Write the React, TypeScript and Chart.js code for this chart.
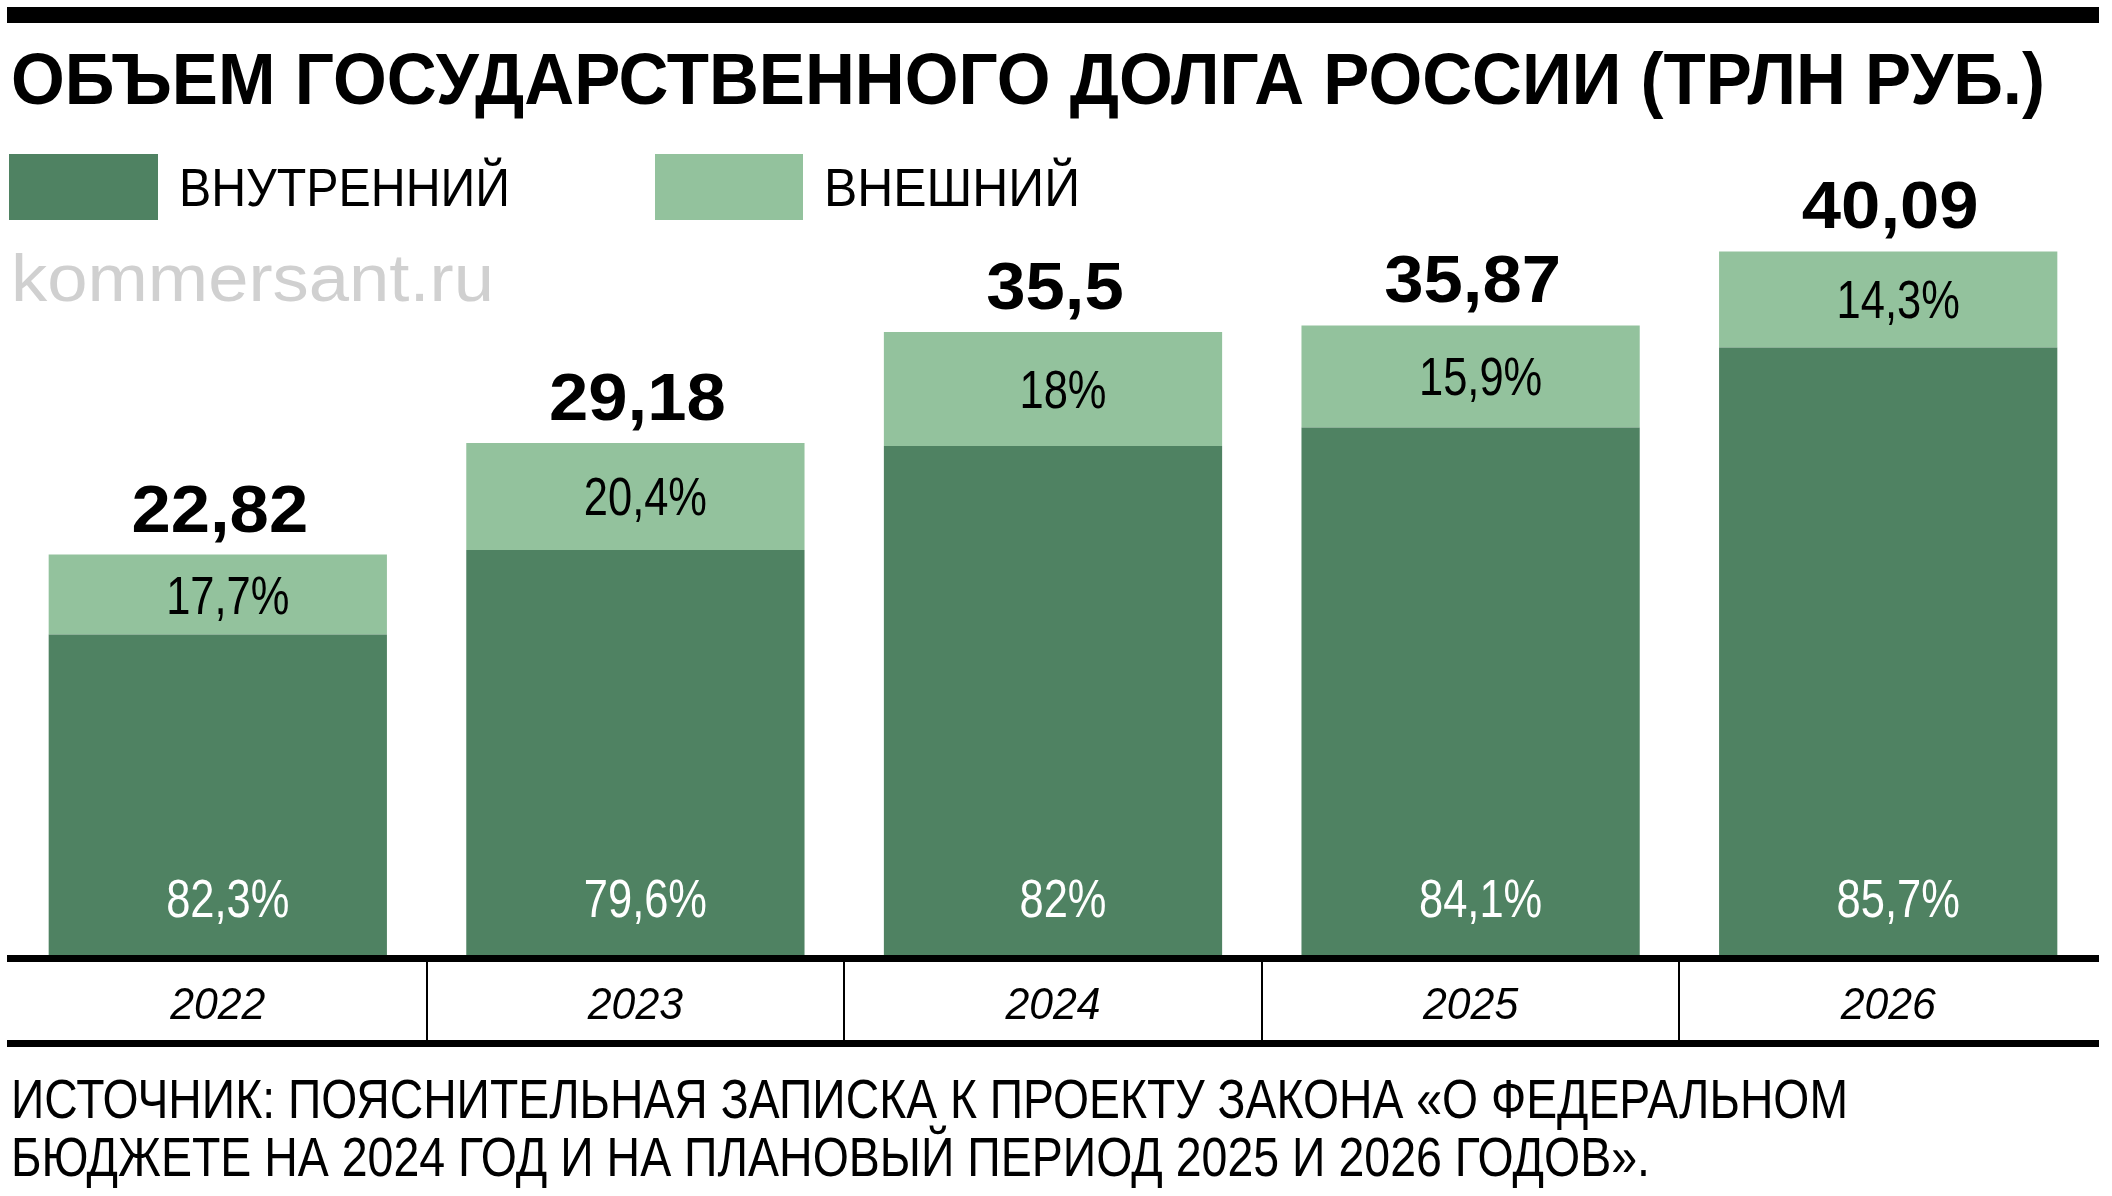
import React, { useEffect, useRef } from "react";
import { Chart, registerables } from "chart.js";

Chart.register(...registerables);

const categories = ["2022", "2023", "2024", "2025", "2026"];
const domestic = [18.26, 23.08, 29.0, 30.06, 34.62];
const external = [4.56, 6.1, 6.5, 5.81, 5.47];
const totalLabels = ["22,82", "29,18", "35,5", "35,87", "40,09"];
const domesticShare = ["82,3%", "79,6%", "82%", "84,1%", "85,7%"];
const externalShare = ["17,7%", "20,4%", "18%", "15,9%", "14,3%"];

const TITLE = "ОБЪЕМ ГОСУДАРСТВЕННОГО ДОЛГА РОССИИ (ТРЛН РУБ.)";
const LEGEND_DOMESTIC = "ВНУТРЕННИЙ";
const LEGEND_EXTERNAL = "ВНЕШНИЙ";
const WATERMARK = "kommersant.ru";
const SOURCE_1 = "ИСТОЧНИК: ПОЯСНИТЕЛЬНАЯ ЗАПИСКА К ПРОЕКТУ ЗАКОНА «О ФЕДЕРАЛЬНОМ";
const SOURCE_2 = "БЮДЖЕТЕ НА 2024 ГОД И НА ПЛАНОВЫЙ ПЕРИОД 2025 И 2026 ГОДОВ».";

const DARK = "#4f8262";
const LIGHT = "#93c29d";
const FONT = '"Liberation Sans", Arial, sans-serif';

let mctx: CanvasRenderingContext2D | null = null;
function measure(text: string, font: string) {
  if (!mctx) mctx = document.createElement("canvas").getContext("2d");
  mctx!.font = font;
  return mctx!.measureText(text).width;
}

function FitText(props: {
  text: string;
  x: number;
  baseline: number;
  size: number;
  width: number;
  weight?: number;
  italic?: boolean;
  color?: string;
}) {
  const { text, x, baseline, size, width, weight = 400, italic = false, color = "#000" } = props;
  const font = `${italic ? "italic " : ""}${weight} ${size}px ${FONT}`;
  const w = measure(text, font);
  const k = w > 0 ? width / w : 1;
  return (
    <div
      style={{
        position: "absolute",
        left: x,
        top: baseline - 0.8465 * size,
        fontFamily: FONT,
        fontSize: size,
        fontWeight: weight,
        fontStyle: italic ? "italic" : "normal",
        lineHeight: `${size}px`,
        whiteSpace: "nowrap",
        color,
        transform: `scaleX(${k})`,
        transformOrigin: "0 0",
      }}
    >
      {text}
    </div>
  );
}

function drawScaled(ctx: CanvasRenderingContext2D, text: string, cx: number, baseline: number, font: string, k: number, color: string) {
  ctx.save();
  ctx.font = font;
  ctx.fillStyle = color;
  ctx.textAlign = "center";
  ctx.textBaseline = "alphabetic";
  ctx.translate(cx, baseline);
  ctx.scale(k, 1);
  ctx.fillText(text, 0, 0);
  ctx.restore();
}

const PCT_FONT = `400 53px ${FONT}`;
const PCT_K = 0.82;
const PCT_DX = 10;

const labelsPlugin = {
  id: "kommersantLabels",
  afterDatasetsDraw(chart: any) {
    const ctx: CanvasRenderingContext2D = chart.ctx;
    const area = chart.chartArea;
    const m0 = chart.getDatasetMeta(0);
    const m1 = chart.getDatasetMeta(1);
    const xScale = chart.scales.x;
    const n = categories.length;
    const step = (area.right - area.left) / n;

    for (let i = 0; i < n; i++) {
      const d: any = m0.data[i];
      const e: any = m1.data[i];
      const cx = d.x;
      const eMid = (e.y + e.base) / 2;
      drawScaled(ctx, externalShare[i], cx + PCT_DX, eMid + 19, PCT_FONT, PCT_K, "#000");
      drawScaled(ctx, domesticShare[i], cx + PCT_DX, d.base - 38, PCT_FONT, PCT_K, "#fff");
      drawScaled(ctx, totalLabels[i], cx + 2, e.y - 23, `700 66px ${FONT}`, 1.07, "#000");
    }

    ctx.save();
    ctx.fillStyle = "#000";
    const base = area.bottom;
    ctx.fillRect(7, base, 2092, 7);
    ctx.fillRect(7, 1040, 2092, 7);
    for (let i = 1; i < n; i++) {
      const bx = Math.round(area.left + step * i);
      ctx.fillRect(bx - 1, base + 7, 2, 1040 - base - 7);
    }
    ctx.restore();
    for (let i = 0; i < n; i++) {
      const cx = xScale.getPixelForValue(i);
      drawScaled(ctx, categories[i], cx, 1019, `italic 400 45px ${FONT}`, 0.95, "#000");
    }
  },
};

export default function App() {
  const ref = useRef<HTMLCanvasElement>(null);
  useEffect(() => {
    if (!ref.current) return;
    const chart = new Chart(ref.current, {
      type: "bar",
      data: {
        labels: categories,
        datasets: [
          { label: LEGEND_DOMESTIC, data: domestic, backgroundColor: DARK, borderWidth: 0, barPercentage: 0.81, categoryPercentage: 1 },
          { label: LEGEND_EXTERNAL, data: external, backgroundColor: LIGHT, borderWidth: 0, barPercentage: 0.81, categoryPercentage: 1 },
        ],
      },
      options: {
        responsive: false,
        animation: false,
        devicePixelRatio: 1,
        layout: { padding: { left: 9, right: 15, top: 77.5, bottom: 241 } },
        scales: {
          x: { display: false, stacked: true },
          y: { display: false, stacked: true, min: 0, max: 50 },
        },
        plugins: { legend: { display: false }, tooltip: { enabled: false }, title: { display: false } },
      },
      plugins: [labelsPlugin],
    });
    return () => chart.destroy();
  }, []);

  return (
    <div style={{ position: "absolute", left: 0, top: 0, width: 2112, height: 1196, background: "#fff", overflow: "hidden" }}>
      <canvas ref={ref} width={2112} height={1196} style={{ position: "absolute", left: 0, top: 0, width: 2112, height: 1196 }} />
      <div style={{ position: "absolute", left: 7, top: 7, width: 2092, height: 16, background: "#000" }} />
      <FitText text={TITLE} x={11} baseline={104} size={72} weight={700} width={2034} />
      <div style={{ position: "absolute", left: 9, top: 154, width: 149, height: 66, background: DARK }} />
      <FitText text={LEGEND_DOMESTIC} x={179} baseline={206} size={54} width={331} />
      <div style={{ position: "absolute", left: 655, top: 154, width: 148, height: 66, background: LIGHT }} />
      <FitText text={LEGEND_EXTERNAL} x={824} baseline={206} size={54} width={256} />
      <FitText text={WATERMARK} x={11} baseline={301} size={66} width={483} color="#d0d0d0" />
      <FitText text={SOURCE_1} x={11} baseline={1118} size={56} width={1837} />
      <FitText text={SOURCE_2} x={11} baseline={1176} size={56} width={1639} />
    </div>
  );
}
